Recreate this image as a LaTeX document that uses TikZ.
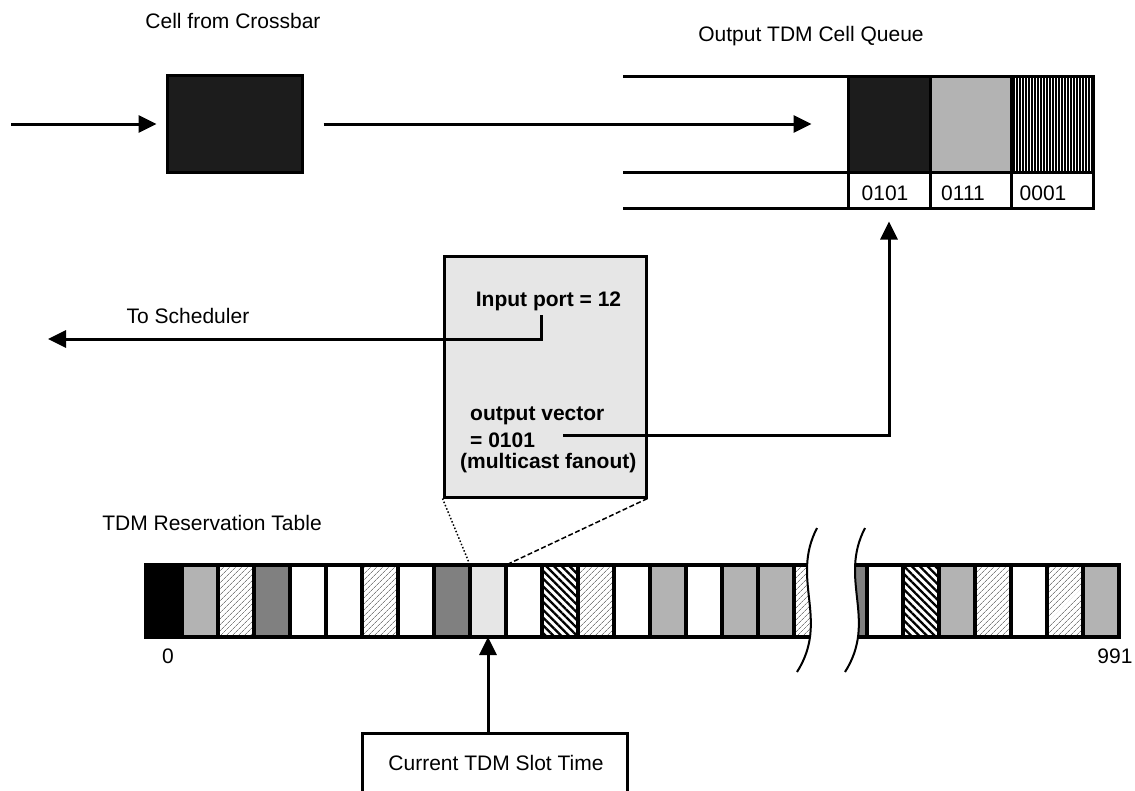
\documentclass[tikz,border=0pt]{standalone}
\usepackage{fontspec}
\setmainfont{Liberation Sans}
\usetikzlibrary{arrows.meta,patterns.meta}
\definecolor{qblack}{HTML}{1C1C1C}
\definecolor{mgray}{HTML}{B3B3B3}
\definecolor{dgray}{HTML}{808080}
\definecolor{lgray}{HTML}{E6E6E6}
\tikzset{
  txt/.style={font=\fontsize{21}{25}\selectfont, inner sep=0pt, anchor=base},
  btxt/.style={font=\fontsize{21}{25}\selectfont\bfseries, inner sep=0pt, anchor=base west},
  arr/.style={line width=3pt, -{Triangle[length=18pt,width=17pt]}},
  ln/.style={line width=3pt},
  tcell/.style={draw, line width=3.5pt, minimum width=36pt, minimum height=72pt, inner sep=0pt, outer sep=0pt, anchor=north west},
  qcell/.style={draw, line width=3pt, inner sep=0pt, minimum height=96pt},
  lcell/.style={draw, line width=3pt, inner sep=0pt, minimum height=36pt},
  lhatch/.style={pattern={Lines[angle=45,distance=4pt,line width=0.7pt]}, pattern color=gray},
  dhatch/.style={pattern={Lines[angle=-45,distance=5.5pt,line width=2.3pt]}, pattern color=black},
  vhatch/.style={pattern={Lines[angle=90,distance=3pt,line width=1.2pt]}, pattern color=black},
  wave/.style={line width=2pt},
}
\begin{document}
\begin{tikzpicture}[x=1pt,y=-1pt]
\useasboundingbox (0,0) rectangle (1135,790);
% titles
\node[txt] (tcellfrom) at (233,28) {Cell from Crossbar};
\node[txt] (tqueue) at (811,41) {Output TDM Cell Queue};
\node[txt] (tsched) at (188,323) {To Scheduler};
\node[txt] (ttable) at (212,530) {TDM Reservation Table};
% incoming cell
\node[draw, line width=3pt, fill=qblack, minimum width=135pt, minimum height=97pt, inner sep=0pt] (cb) at (234.5,124) {};
\coordinate (in) at (11,124);
\draw[arr, shorten >=9pt] (in) -- (cb.west);
% queue
\draw[ln] (623,76) -- (1093,76);
\draw[ln] (623,172) -- (1093,172);
\draw[ln] (623,208) -- (1093,208);
\node[qcell, fill=qblack, minimum width=82pt] (q1) at (889,124) {};
\node[qcell, fill=mgray, minimum width=81pt] (q2) at (970.5,124) {};
\node[qcell, vhatch, minimum width=82pt] (q3) at (1052,124) {};
\node[lcell, minimum width=82pt] (l1) at (889,190) {};
\node[lcell, minimum width=81pt] (l2) at (970.5,190) {};
\node[lcell, minimum width=82pt] (l3) at (1052,190) {};
\node[txt] (v1) at (885,200) {0101};
\node[txt] (v2) at (963,200) {0111};
\node[txt] (v3) at (1043,200) {0001};
\draw[arr, shorten <=20pt, shorten >=35pt] (cb.east) -- (q1.west);
% zoom box
\node[draw, line width=3pt, fill=lgray, minimum width=202pt, minimum height=241pt, inner sep=0pt] (zb) at (545,376.5) {};
\node[btxt, anchor=base] (inport) at (548.5,306) {Input port = 12};
\node[btxt] (ovec) at (470,420) {output vector};
\node[btxt] (oval) at (470,447) {= 0101};
\node[btxt] (ofan) at (460,468) {(multicast fanout)};
\coordinate (sched) at (48,339);
\draw[arr] ([xshift=-7.5pt,yshift=-4.5pt]inport.south) |- (sched);
\coordinate (ov) at (563,435);
\draw[arr, shorten >=12pt] (ov) -| (l1.south);
% reservation table, left part
\node[tcell, fill=black] (c0) at (146,565) {};
\node[tcell, fill=mgray] (c1) at (182,565) {};
\node[tcell, lhatch] (c2) at (218,565) {};
\node[tcell, fill=dgray] (c3) at (254,565) {};
\node[tcell, fill=white] (c4) at (290,565) {};
\node[tcell, fill=white] (c5) at (326,565) {};
\node[tcell, lhatch] (c6) at (362,565) {};
\node[tcell, fill=white] (c7) at (398,565) {};
\node[tcell, fill=dgray] (c8) at (434,565) {};
\node[tcell, fill=lgray] (c9) at (470,565) {};
\node[tcell, fill=white] (c10) at (506,565) {};
\node[tcell, dhatch] (c11) at (542,565) {};
\node[tcell, lhatch] (c12) at (578,565) {};
\node[tcell, fill=white] (c13) at (614,565) {};
\node[tcell, fill=mgray] (c14) at (650,565) {};
\node[tcell, fill=white] (c15) at (686,565) {};
\node[tcell, fill=mgray] (c16) at (722,565) {};
\node[tcell, fill=mgray] (c17) at (758,565) {};
\node[tcell, lhatch] (c18) at (794,565) {};
% right part
\node[tcell, fill=dgray] (r0) at (831,565) {};
\node[tcell, fill=white] (r1) at (867,565) {};
\node[tcell, dhatch] (r2) at (903,565) {};
\node[tcell, fill=mgray] (r3) at (939,565) {};
\node[tcell, lhatch] (r4) at (975,565) {};
\node[tcell, fill=white] (r5) at (1011,565) {};
\node[tcell, lhatch] (r6) at (1047,565) {};
\node[tcell, fill=mgray] (r7) at (1083,565) {};
% break
\fill[white] (817,528) .. controls (790,580) and (830,620) .. (797,672) -- (845,672) .. controls (878,620) and (838,580) .. (865,528) -- cycle;
\draw[wave] (817,528) .. controls (790,580) and (830,620) .. (797,672);
\draw[wave] (865,528) .. controls (838,580) and (878,620) .. (845,672);
\node[txt] (n0) at (168,663) {0};
\node[txt] (n991) at (1115,663) {991};
% zoom lines
\draw[line width=1.5pt, dotted] (zb.south west) -- (c9.north west);
\draw[line width=1.5pt, dash pattern=on 5pt off 2.5pt] (zb.south east) -- (c9.north east);
% current slot
\node[minimum width=265pt, minimum height=80pt, inner sep=0pt, outer sep=0pt] (slot) at (494.5,773) {};
\draw[line width=3pt] (slot.south west) -- (slot.north west) -- (slot.north east) -- (slot.south east);
\draw[arr] (slot.north -| c9.south) -- (c9.south);
\node[txt] (slottxt) at (496,770) {Current TDM Slot Time};
\end{tikzpicture}
\end{document}
